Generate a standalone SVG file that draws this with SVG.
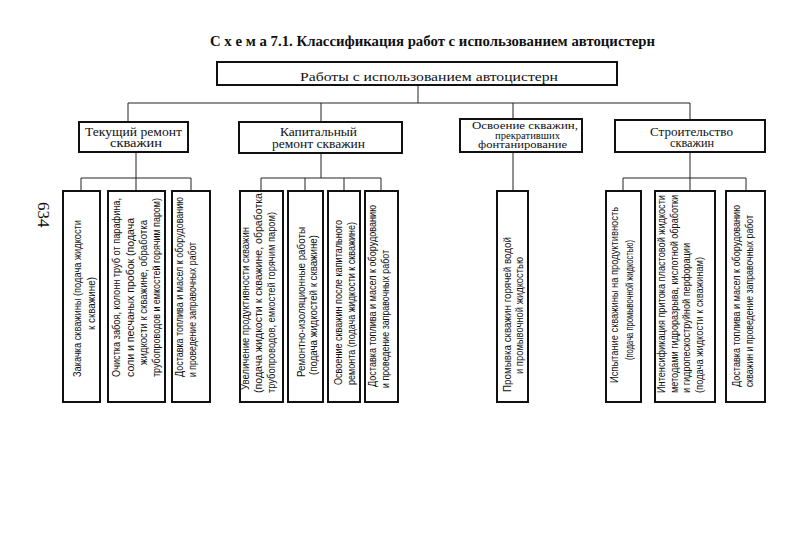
<svg xmlns="http://www.w3.org/2000/svg" width="808" height="557" viewBox="0 0 808 557">
<style>
.bx{fill:#fff;stroke:#111;stroke-width:2}
.ln{fill:none;stroke:#222;stroke-width:1}
.hd{font-family:"Liberation Serif","Times New Roman",serif;fill:#111}
.lf{font-family:"Liberation Sans",Arial,sans-serif;font-size:10px;fill:#111}
</style>
<rect width="808" height="557" fill="#fff"/>
<text class="hd" x="210" y="46" font-size="14" font-weight="bold" textLength="445" lengthAdjust="spacingAndGlyphs">С х е м а 7.1. Классификация работ с использованием автоцистерн</text>
<text class="hd" transform="translate(38,202) rotate(90)" font-size="17">634</text>

<g id="connectors">
<path class="ln" d="M418 85V103M128 103H690M128 103V122M321 103V122M513 103V119M690 103V120"/>
<path class="ln" d="M136 152V178M81 178H191M81 178V191M136 178V191M191 178V191"/>
<path class="ln" d="M321 153V178M261 178H381M261 178V191M305 178V191M344 178V191M381 178V191"/>
<path class="ln" d="M513 152V191"/>
<path class="ln" d="M690 152V178M623 178H746M623 178V191M690 178V191M746 178V191"/>
</g>

<g id="root">
<rect class="bx" x="217" y="62" width="400" height="23"/>
<text class="hd" x="300" y="81" font-size="13" textLength="258" lengthAdjust="spacingAndGlyphs">Работы с использованием автоцистерн</text>
</g>

<g id="tekushiy">
<rect class="bx" x="79" y="122" width="109" height="30"/>
<text class="hd" x="85" y="135.5" font-size="11.5" textLength="97" lengthAdjust="spacingAndGlyphs">Текущий ремонт</text>
<text class="hd" x="110" y="147" font-size="11.5" textLength="52" lengthAdjust="spacingAndGlyphs">скважин</text>
</g>
<g id="kapitalny">
<rect class="bx" x="239" y="122" width="163" height="31"/>
<text class="hd" x="280" y="135.5" font-size="11.5" textLength="77" lengthAdjust="spacingAndGlyphs">Капитальный</text>
<text class="hd" x="272" y="147.5" font-size="11.5" textLength="93" lengthAdjust="spacingAndGlyphs">ремонт скважин</text>
</g>
<g id="osvoenie">
<rect class="bx" x="460" y="119" width="122" height="33"/>
<text class="hd" x="472" y="129" font-size="10" textLength="106" lengthAdjust="spacingAndGlyphs">Освоение скважин,</text>
<text class="hd" x="495" y="138.5" font-size="10" textLength="65" lengthAdjust="spacingAndGlyphs">прекративших</text>
<text class="hd" x="478" y="148" font-size="10" textLength="89" lengthAdjust="spacingAndGlyphs">фонтанирование</text>
</g>
<g id="stroitelstvo">
<rect class="bx" x="615" y="120" width="150" height="32"/>
<text class="hd" x="650" y="135.5" font-size="11.5" textLength="83" lengthAdjust="spacingAndGlyphs">Строительство</text>
<text class="hd" x="670" y="147" font-size="11.5" textLength="44" lengthAdjust="spacingAndGlyphs">скважин</text>
</g>

<g id="t1">
<rect class="bx" x="63" y="191" width="37" height="211"/>
<text class="lf" transform="translate(81,377) rotate(-90)" textLength="157" lengthAdjust="spacingAndGlyphs">Закачка скважины (подача жидкости</text>
<text class="lf" transform="translate(95,330) rotate(-90)" textLength="53" lengthAdjust="spacingAndGlyphs">к скважине)</text>
</g>
<g id="t2">
<rect class="bx" x="108" y="191" width="57" height="211"/>
<text class="lf" transform="translate(120,377) rotate(-90)" textLength="179" lengthAdjust="spacingAndGlyphs">Очистка забоя, колонн труб от парафина,</text>
<text class="lf" transform="translate(134,377) rotate(-90)" textLength="159" lengthAdjust="spacingAndGlyphs">соли и песчаных пробок (подача</text>
<text class="lf" transform="translate(147,365) rotate(-90)" textLength="145" lengthAdjust="spacingAndGlyphs">жидкости к скважине, обработка</text>
<text class="lf" transform="translate(160,377) rotate(-90)" textLength="179" lengthAdjust="spacingAndGlyphs">трубопроводов и емкостей горячим паром)</text>
</g>
<g id="t3">
<rect class="bx" x="172" y="191" width="38" height="211"/>
<text class="lf" transform="translate(183,377) rotate(-90)" textLength="180" lengthAdjust="spacingAndGlyphs">Доставка топлива и масел к оборудованию</text>
<text class="lf" transform="translate(196,377) rotate(-90)" textLength="135" lengthAdjust="spacingAndGlyphs">и проведение заправочных работ</text>
</g>

<g id="k1">
<rect class="bx" x="240" y="191" width="43" height="211"/>
<text class="lf" transform="translate(249,390) rotate(-90)" textLength="163" lengthAdjust="spacingAndGlyphs">Увеличение продуктивности скважин</text>
<text class="lf" transform="translate(262,393) rotate(-90)" textLength="200" lengthAdjust="spacingAndGlyphs">(подача жидкости к скважине, обработка</text>
<text class="lf" transform="translate(275,393) rotate(-90)" textLength="181" lengthAdjust="spacingAndGlyphs">трубопроводов, емкостей горячим паром)</text>
</g>
<g id="k2">
<rect class="bx" x="288" y="191" width="35" height="211"/>
<text class="lf" transform="translate(305,377) rotate(-90)" textLength="150" lengthAdjust="spacingAndGlyphs">Ремонтно-изоляционные работы</text>
<text class="lf" transform="translate(317,375) rotate(-90)" textLength="140" lengthAdjust="spacingAndGlyphs">(подача жидкостей к скважине)</text>
</g>
<g id="k3">
<rect class="bx" x="328" y="191" width="32" height="211"/>
<text class="lf" transform="translate(342,385) rotate(-90)" textLength="165" lengthAdjust="spacingAndGlyphs">Освоение скважин после капитального</text>
<text class="lf" transform="translate(355,385) rotate(-90)" textLength="163" lengthAdjust="spacingAndGlyphs">ремонта (подача жидкости к скважине)</text>
</g>
<g id="k4">
<rect class="bx" x="365" y="191" width="33" height="211"/>
<text class="lf" transform="translate(376,387) rotate(-90)" textLength="182" lengthAdjust="spacingAndGlyphs">Доставка топлива и масел к оборудованию</text>
<text class="lf" transform="translate(389,388) rotate(-90)" textLength="138" lengthAdjust="spacingAndGlyphs">и проведение заправочных работ</text>
</g>

<g id="o1">
<rect class="bx" x="497" y="191" width="31" height="211"/>
<text class="lf" transform="translate(511,392) rotate(-90)" textLength="155" lengthAdjust="spacingAndGlyphs">Промывка скважин горячей водой</text>
<text class="lf" transform="translate(523,374) rotate(-90)" textLength="117" lengthAdjust="spacingAndGlyphs">и промывочной жидкостью</text>
</g>

<g id="s1">
<rect class="bx" x="606" y="191" width="35" height="211"/>
<text class="lf" transform="translate(618,383) rotate(-90)" textLength="176" lengthAdjust="spacingAndGlyphs">Испытание скважины на продуктивность</text>
<text class="lf" transform="translate(633,360) rotate(-90)" textLength="120" lengthAdjust="spacingAndGlyphs">(подача промывочной жидкостью)</text>
</g>
<g id="s2">
<rect class="bx" x="655" y="191" width="60" height="211"/>
<text class="lf" transform="translate(665,393) rotate(-90)" textLength="198" lengthAdjust="spacingAndGlyphs">Интенсификация притока пластовой жидкости</text>
<text class="lf" transform="translate(678,393) rotate(-90)" textLength="198" lengthAdjust="spacingAndGlyphs">методами гидроразрыва, кислотной обработки</text>
<text class="lf" transform="translate(690,393) rotate(-90)" textLength="150" lengthAdjust="spacingAndGlyphs">и гидропескоструйной перфорации</text>
<text class="lf" transform="translate(703,393) rotate(-90)" textLength="136" lengthAdjust="spacingAndGlyphs">(подача жидкости к скважинам)</text>
</g>
<g id="s3">
<rect class="bx" x="726" y="191" width="39" height="211"/>
<text class="lf" transform="translate(740,387) rotate(-90)" textLength="182" lengthAdjust="spacingAndGlyphs">Доставка топлива и масел к оборудованию</text>
<text class="lf" transform="translate(753,387) rotate(-90)" textLength="172" lengthAdjust="spacingAndGlyphs">скважин и проведение заправочных работ</text>
</g>
</svg>
